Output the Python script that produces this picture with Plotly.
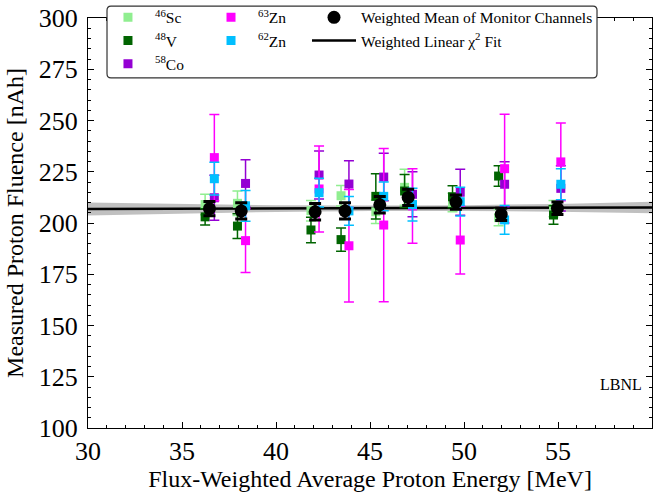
import plotly.graph_objects as go

# ---------------- data ----------------
sc_x = [36.23, 37.95, 41.86, 43.46, 45.31, 46.84, 49.39, 51.84, 54.76]
sc_y = [209.0, 209.6, 206.0, 213.3, 205.5, 217.4, 210.0, 202.6, 207.0]
sc_e = [5.0, 6.0, 5.0, 5.0, 5.7, 8.8, 4.5, 4.0, 4.0]

v_x = [36.23, 37.95, 41.86, 43.46, 45.31, 46.84, 49.39, 51.84, 54.76]
v_y = [203.0, 198.5, 196.6, 191.9, 213.0, 215.6, 212.8, 222.9, 203.9]
v_e = [4.0, 6.0, 6.2, 5.7, 11.0, 8.0, 5.4, 5.0, 4.5]

co_x = [36.72, 38.38, 42.29, 43.88, 45.73, 47.26, 49.80, 52.16, 55.15]
co_y = [212.3, 219.3, 223.4, 219.0, 222.4, 214.0, 215.0, 218.9, 216.9]
co_e = [11.0, 11.5, 11.7, 11.4, 11.6, 11.0, 11.2, 11.0, 11.0]

zn63_x = [36.72, 38.38, 42.29, 43.88, 45.73, 47.26, 49.80, 52.16, 55.15]
zn63_y = [231.9, 191.4, 216.6, 188.9, 199.0, 208.3, 191.7, 226.5, 229.8]
zn63_e = [21.0, 15.6, 21.0, 27.4, 37.4, 18.2, 16.6, 26.5, 19.0]

zn62_x = [36.72, 38.38, 42.29, 43.88, 45.73, 47.26, 49.80, 52.16, 55.15]
zn62_y = [221.6, 208.4, 214.8, 205.9, 213.0, 209.0, 210.4, 201.5, 218.9]
zn62_e = [8.0, 7.5, 7.0, 7.0, 7.0, 8.0, 7.0, 7.0, 7.6]

mean_x = [36.46, 38.15, 42.08, 43.67, 45.52, 47.03, 49.57, 51.98, 54.97]
mean_y = [207.0, 205.9, 205.5, 205.9, 208.9, 212.5, 210.2, 204.2, 207.2]
mean_e = [3.5, 4.0, 4.0, 4.0, 4.0, 4.0, 3.5, 3.0, 3.0]

fit_x = [30, 35, 40, 45, 50, 55, 60]
fit_y = [206.8, 206.9, 207.0, 207.2, 207.3, 207.4, 207.6]
fit_lo = [203.6, 204.6, 205.4, 205.9, 205.9, 205.5, 204.8]
fit_hi = [210.0, 209.2, 208.6, 208.5, 208.7, 209.3, 210.4]

font_family = "Liberation Serif, Times New Roman, serif"

fig = go.Figure()

# confidence band
fig.add_trace(go.Scatter(x=fit_x, y=fit_lo, mode="lines", line=dict(width=0, color="rgba(0,0,0,0)"),
                         showlegend=False, hoverinfo="skip"))
fig.add_trace(go.Scatter(x=fit_x, y=fit_hi, mode="lines", line=dict(width=0, color="rgba(0,0,0,0)"),
                         fill="tonexty", fillcolor="rgba(140,140,140,0.55)", showlegend=False, hoverinfo="skip"))
fig.add_trace(go.Scatter(x=fit_x, y=fit_y, mode="lines", line=dict(color="black", width=2.5),
                         name="Weighted Linear χ<sup>2</sup> Fit", legend="legend3", legendrank=2))


def iso(x, y, e, color, name, leg, rank):
    fig.add_trace(go.Scatter(
        x=x, y=y, mode="markers", name=name, legend=leg, legendrank=rank,
        marker=dict(symbol="square", size=9, color=color),
        error_y=dict(type="data", array=e, color=color, thickness=1.5, width=5),
    ))


iso(sc_x, sc_y, sc_e, "#90EE90", "<sup>46</sup>Sc", "legend", 1)
iso(v_x, v_y, v_e, "#006400", "<sup>48</sup>V", "legend", 2)
iso(co_x, co_y, co_e, "#9400D3", "<sup>58</sup>Co", "legend", 3)
iso(zn63_x, zn63_y, zn63_e, "#FF00FF", "<sup>63</sup>Zn", "legend2", 1)
iso(zn62_x, zn62_y, zn62_e, "#00BFFF", "<sup>62</sup>Zn", "legend2", 2)

fig.add_trace(go.Scatter(
    x=mean_x, y=mean_y, mode="markers", name="Weighted Mean of Monitor Channels",
    legend="legend3", legendrank=1,
    marker=dict(symbol="circle", size=13, color="black"),
    error_y=dict(type="data", array=mean_e, color="black", thickness=3, width=6),
))

fig.add_annotation(x=58.35, y=121, text="LBNL", showarrow=False, xref="x", yref="y",
                   font=dict(family=font_family, size=16, color="black"))

# legend frame (rounded box spanning the three legend columns)
x0, x1, y0, y1 = 0.0337, 0.9025, 0.854, 1.029
rx, ry = 0.007, 0.01
box_path = (f"M {x0+rx},{y1} L {x1-rx},{y1} Q {x1},{y1} {x1},{y1-ry} "
            f"L {x1},{y0+ry} Q {x1},{y0} {x1-rx},{y0} L {x0+rx},{y0} "
            f"Q {x0},{y0} {x0},{y0+ry} L {x0},{y1-ry} Q {x0},{y1} {x0+rx},{y1} Z")
fig.add_shape(type="path", path=box_path, xref="paper", yref="paper",
              line=dict(color="#333333", width=1.2), fillcolor="white", layer="above")

axis_common = dict(showline=True, linecolor="black", linewidth=1, mirror="allticks",
                   ticks="inside", ticklen=6, tickcolor="black", showgrid=False, zeroline=False,
                   tickfont=dict(family=font_family, size=26, color="black"))

fig.update_xaxes(range=[30, 60], dtick=5, tick0=30,
                 title=dict(text="Flux-Weighted Average Proton Energy [MeV]",
                            font=dict(family=font_family, size=24, color="black"), standoff=4),
                 minor=dict(dtick=1, ticks="inside", ticklen=3, tickcolor="black"),
                 ticklabelstandoff=0,
                 **axis_common)
fig.update_yaxes(range=[100, 300], dtick=25, tick0=100,
                 title=dict(text="Measured Proton Fluence [nAh]",
                            font=dict(family=font_family, size=24, color="black"), standoff=8),
                 minor=dict(dtick=5, ticks="inside", ticklen=3, tickcolor="black"),
                 ticklabelstandoff=4,
                 **axis_common)

leg_common = dict(orientation="v", yanchor="top", xanchor="left", y=1.042,
                  bgcolor="rgba(0,0,0,0)", borderwidth=0, tracegroupgap=0, itemwidth=44,
                  font=dict(family=font_family, size=15.5, color="black"), traceorder="normal")

fig.update_layout(
    width=659, height=497,
    margin=dict(l=88, r=7, t=18, b=69, autoexpand=False),
    plot_bgcolor="white", paper_bgcolor="white",
    font=dict(family=font_family, color="black"),
    legend=dict(x=0.023, **leg_common),
    legend2=dict(x=0.2057, **leg_common),
    legend3=dict(x=0.3883, **leg_common),
)

fig.write_html("out.html")
